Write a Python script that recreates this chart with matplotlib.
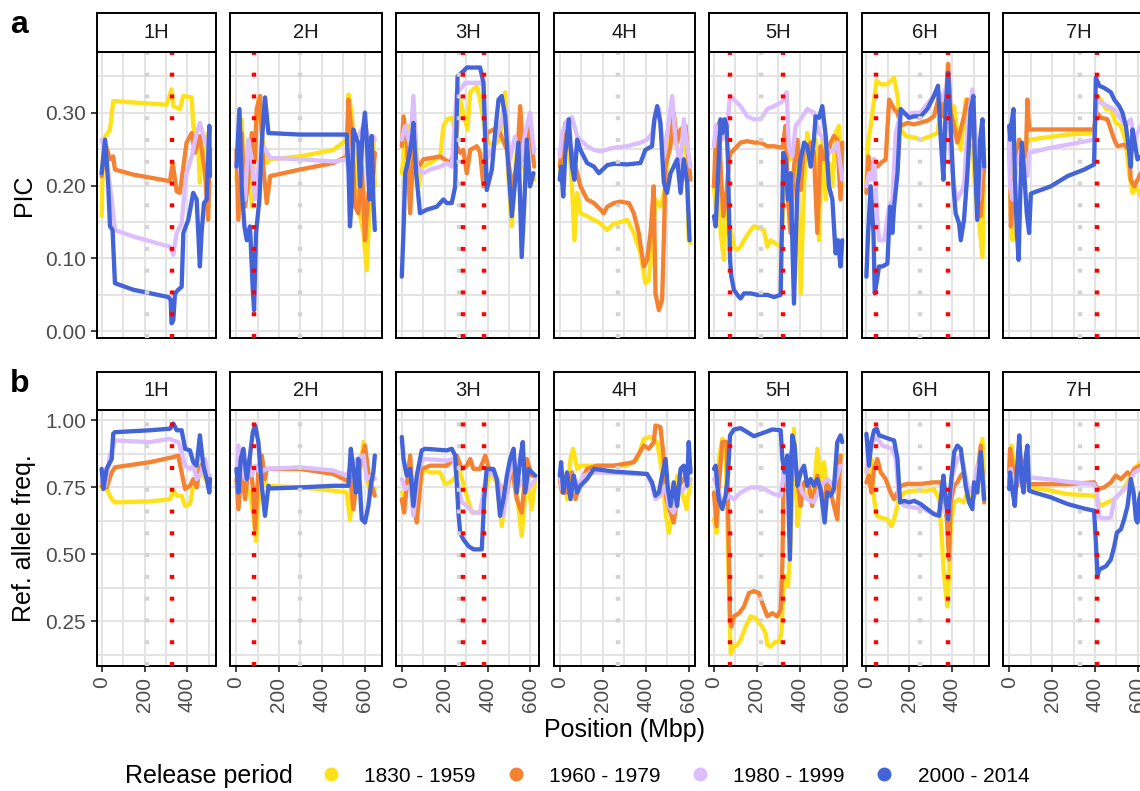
import matplotlib
matplotlib.use('Agg')
import matplotlib.pyplot as plt
from matplotlib.lines import Line2D
from matplotlib.ticker import FormatStrFormatter

plt.rcParams['font.family'] = ['Liberation Sans', 'DejaVu Sans']

chromosomes = ['1H', '2H', '3H', '4H', '5H', '6H', '7H']
periods = ['1830 - 1959', '1960 - 1979', '1980 - 1999', '2000 - 2014']
period_colors = ['#FFE119', '#F58231', '#DCBEFF', '#4363D8']

# x range shown for each chromosome (Mbp)
x_limits = {'1H': (-23, 532), '2H': (-28, 679), '3H': (-27, 642), '4H': (-28, 629),
            '5H': (-23, 622), '6H': (-22, 571), '7H': (-28, 676)}
red_marks = {'1H': [328], '2H': [82], '3H': [287, 381], '4H': [],
             '5H': [73, 323], '6H': [47, 381], '7H': [409]}
grey_marks = {'1H': 210, '2H': 298, '3H': 269, '4H': 272, '5H': 218, '6H': 252, '7H': 329}

# ---- PIC (panel a) ----
pic_1h = {
    '1830 - 1959': [(0, .158), (8, .263), (39, .277), (54, .316), (148, .314), (303, .311), (326, .332), (334, .309),
                    (365, .305), (381, .323), (420, .321), (427, .282), (451, .249), (458, .204), (466, .249),
                    (482, .240), (497, .272), (505, .226)],
    '1960 - 1979': [(0, .213), (16, .259), (39, .236), (54, .240), (62, .222), (148, .215), (319, .206), (331, .231),
                    (350, .192), (365, .190), (381, .226), (396, .259), (420, .272), (435, .245), (458, .268),
                    (482, .217), (497, .153), (505, .249)],
    '1980 - 1999': [(0, .263), (23, .236), (47, .181), (62, .139), (148, .130), (319, .116), (334, .105), (350, .135),
                    (373, .148), (389, .199), (396, .217), (420, .240), (443, .272), (458, .286), (471, .272),
                    (482, .263), (497, .249), (505, .240)],
    '2000 - 2014': [(0, .217), (8, .240), (16, .263), (23, .236), (31, .199), (39, .144), (51, .139), (62, .066),
                    (148, .057), (311, .047), (322, .043), (326, .011), (334, .015), (342, .052), (357, .057),
                    (373, .061), (381, .135), (404, .153), (427, .190), (443, .181), (458, .089), (466, .135),
                    (477, .176), (490, .181), (502, .282), (505, .213)],
}
pic_2h = {
    '1830 - 1959': [(2, .208), (11, .263), (26, .291), (42, .190), (57, .259), (73, .171), (89, .272), (104, .318),
                    (127, .254), (143, .231), (159, .236), (298, .240), (454, .249), (516, .263), (524, .325),
                    (539, .300), (555, .236), (570, .171), (594, .135), (609, .084), (625, .181), (640, .263),
                    (647, .199)],
    '1960 - 1979': [(2, .249), (11, .153), (26, .272), (42, .171), (57, .208), (73, .272), (89, .236), (96, .305),
                    (112, .323), (127, .226), (143, .176), (159, .213), (298, .222), (454, .231), (516, .240),
                    (524, .318), (539, .272), (555, .171), (570, .162), (586, .226), (601, .125), (617, .190),
                    (640, .217), (647, .245)],
    '1980 - 1999': [(2, .226), (11, .249), (26, .199), (42, .181), (57, .263), (73, .236), (89, .181), (104, .226),
                    (127, .254), (159, .238), (298, .236), (454, .233), (516, .236), (531, .208), (547, .263),
                    (570, .268), (586, .277), (601, .286), (617, .263), (640, .268), (647, .263)],
    '2000 - 2014': [(2, .226), (16, .305), (26, .199), (39, .144), (50, .125), (65, .144), (78, .057), (84, .029),
                    (93, .135), (109, .181), (120, .259), (135, .321), (151, .272), (159, .272), (298, .270),
                    (516, .270), (524, .226), (531, .144), (539, .181), (547, .277), (563, .263), (570, .259),
                    (578, .199), (590, .272), (601, .300), (609, .263), (622, .181), (632, .268), (640, .181),
                    (647, .139)],
}
pic_3h = {
    '1830 - 1959': [(0, .217), (16, .263), (31, .282), (47, .199), (62, .282), (78, .199), (93, .226), (132, .231),
                    (179, .240), (194, .282), (210, .291), (233, .293), (256, .268), (272, .318), (287, .300),
                    (306, .277), (319, .328), (350, .337), (365, .318), (396, .263), (427, .254), (458, .263),
                    (482, .328), (497, .213), (513, .144), (528, .226), (552, .282), (567, .226), (591, .199),
                    (606, .217), (617, .208)],
    '1960 - 1979': [(0, .254), (8, .295), (23, .263), (39, .162), (54, .254), (78, .226), (101, .236), (179, .240),
                    (225, .231), (256, .254), (272, .245), (287, .249), (303, .217), (319, .249), (350, .254),
                    (365, .245), (381, .199), (396, .272), (427, .277), (458, .272), (490, .249), (513, .199),
                    (536, .226), (552, .309), (567, .236), (583, .263), (598, .282), (617, .226)],
    '1980 - 1999': [(0, .263), (16, .282), (39, .254), (54, .323), (70, .226), (101, .217), (132, .222), (179, .226),
                    (210, .231), (233, .226), (256, .328), (272, .332), (295, .341), (319, .341), (350, .341),
                    (365, .341), (381, .337), (396, .236), (427, .254), (458, .282), (482, .305), (505, .236),
                    (528, .267), (552, .226), (575, .272), (598, .300), (617, .245)],
    '2000 - 2014': [(0, .075), (8, .139), (16, .217), (31, .236), (47, .263), (54, .286), (67, .217), (85, .162),
                    (117, .167), (163, .171), (194, .181), (210, .176), (233, .176), (249, .199), (260, .350),
                    (287, .357), (303, .362), (365, .362), (381, .341), (396, .194), (420, .222), (435, .272),
                    (451, .318), (466, .323), (482, .295), (497, .226), (513, .158), (528, .204), (544, .259),
                    (559, .102), (572, .181), (583, .263), (598, .199), (614, .217)],
}
pic_4h = {
    '1830 - 1959': [(0, .208), (11, .259), (26, .282), (42, .263), (57, .199), (68, .125), (81, .190), (96, .162),
                    (127, .158), (159, .153), (190, .148), (221, .139), (252, .148), (283, .150), (314, .153),
                    (345, .135), (376, .107), (399, .066), (415, .070), (430, .116), (446, .181), (469, .171),
                    (493, .199), (508, .282), (524, .300), (539, .259), (563, .240), (586, .282), (601, .125),
                    (609, .121)],
    '1960 - 1979': [(0, .226), (11, .254), (26, .286), (42, .263), (57, .245), (81, .217), (96, .199), (127, .181),
                    (159, .176), (190, .167), (205, .162), (221, .171), (252, .176), (283, .178), (322, .176),
                    (345, .162), (368, .135), (392, .089), (407, .098), (423, .135), (438, .199), (446, .052),
                    (462, .029), (477, .043), (485, .125), (493, .226), (516, .254), (531, .300), (547, .259),
                    (563, .277), (586, .282), (609, .208)],
    '1980 - 1999': [(0, .240), (11, .272), (34, .289), (57, .294), (81, .267), (96, .263), (127, .254), (159, .249),
                    (190, .247), (252, .252), (314, .254), (376, .259), (407, .263), (430, .272), (446, .300),
                    (462, .305), (485, .240), (500, .272), (524, .323), (539, .263), (563, .226), (578, .291),
                    (594, .254), (609, .226)],
    '2000 - 2014': [(0, .208), (6, .226), (16, .185), (26, .245), (42, .291), (57, .226), (68, .208), (81, .263),
                    (96, .249), (127, .231), (159, .226), (182, .217), (221, .228), (252, .230), (314, .229),
                    (376, .231), (399, .249), (430, .254), (441, .291), (454, .309), (469, .286), (485, .204),
                    (500, .190), (516, .217), (531, .226), (547, .236), (563, .190), (578, .236), (594, .204),
                    (605, .125)],
}
pic_5h = {
    '1830 - 1959': [(0, .199), (8, .171), (16, .208), (23, .236), (31, .135), (47, .098), (54, .190), (65, .135),
                    (78, .139), (93, .116), (109, .112), (124, .116), (140, .125), (171, .139), (186, .144),
                    (218, .141), (233, .139), (249, .116), (264, .125), (295, .119), (314, .116), (326, .190),
                    (342, .254), (357, .236), (373, .249), (389, .226), (404, .052), (420, .199), (435, .272),
                    (458, .240), (474, .263), (490, .125), (505, .263), (521, .181), (536, .231), (552, .199),
                    (567, .272), (583, .282), (598, .199)],
    '1960 - 1979': [(0, .199), (8, .263), (23, .286), (34, .208), (44, .158), (59, .190), (70, .236), (78, .245),
                    (93, .249), (124, .259), (155, .261), (186, .259), (218, .259), (249, .254), (280, .254),
                    (319, .252), (334, .282), (345, .181), (357, .135), (373, .226), (389, .263), (404, .194),
                    (420, .254), (435, .249), (451, .259), (466, .245), (482, .135), (497, .254), (513, .236),
                    (528, .240), (544, .259), (559, .268), (575, .263), (590, .181), (598, .259)],
    '1980 - 1999': [(0, .254), (8, .282), (23, .272), (39, .263), (62, .282), (75, .323), (93, .318), (124, .309),
                    (155, .295), (186, .291), (218, .291), (249, .305), (280, .309), (311, .314), (326, .318),
                    (339, .328), (350, .249), (365, .240), (381, .282), (404, .291), (435, .305), (466, .300),
                    (490, .272), (513, .263), (536, .245), (559, .249), (575, .259), (598, .208)],
    '2000 - 2014': [(0, .158), (8, .144), (23, .240), (31, .291), (39, .272), (50, .291), (59, .282), (65, .236),
                    (75, .098), (81, .075), (93, .057), (109, .050), (124, .045), (140, .052), (171, .052),
                    (202, .050), (249, .050), (280, .047), (311, .050), (323, .245), (334, .236), (345, .181),
                    (357, .217), (373, .038), (389, .199), (404, .236), (420, .259), (435, .254), (451, .226),
                    (466, .263), (474, .295), (490, .293), (505, .309), (521, .268), (536, .199), (552, .181),
                    (567, .107), (578, .125), (590, .089), (598, .125)],
}
pic_6h = {
    '1830 - 1959': [(0, .204), (9, .261), (20, .282), (36, .318), (47, .344), (67, .339), (98, .339), (129, .348),
                    (145, .323), (160, .277), (183, .268), (222, .266), (253, .263), (300, .268), (331, .272),
                    (347, .305), (378, .341), (393, .291), (409, .309), (424, .272), (440, .249), (463, .318),
                    (479, .245), (494, .254), (510, .181), (525, .153), (541, .102), (549, .199)],
    '1960 - 1979': [(0, .190), (9, .240), (20, .217), (36, .236), (51, .226), (67, .231), (90, .236), (106, .318),
                    (129, .305), (145, .300), (160, .282), (191, .286), (222, .284), (284, .289), (315, .295),
                    (339, .323), (354, .295), (370, .318), (381, .367), (393, .300), (409, .282), (424, .259),
                    (440, .277), (455, .295), (471, .318), (486, .282), (502, .263), (517, .199), (533, .158),
                    (549, .226)],
    '1980 - 1999': [(0, .199), (12, .217), (23, .208), (36, .236), (48, .171), (59, .125), (82, .125), (106, .171),
                    (121, .181), (137, .272), (160, .300), (191, .298), (222, .300), (253, .300), (300, .318),
                    (331, .332), (354, .318), (378, .341), (393, .236), (409, .199), (424, .181), (440, .190),
                    (455, .199), (471, .282), (494, .332), (510, .263), (525, .181), (541, .272), (549, .226)],
    '2000 - 2014': [(0, .075), (8, .135), (20, .199), (33, .135), (39, .052), (47, .066), (59, .089), (75, .089),
                    (98, .093), (110, .171), (121, .135), (129, .171), (145, .217), (160, .305), (176, .300),
                    (199, .293), (222, .295), (253, .295), (284, .305), (315, .323), (334, .337), (347, .263),
                    (359, .208), (370, .309), (381, .355), (393, .282), (406, .199), (416, .162), (432, .148),
                    (440, .125), (455, .153), (471, .217), (486, .305), (499, .323), (505, .245), (517, .153),
                    (530, .263), (541, .291), (549, .226)],
}
pic_7h = {
    '1830 - 1959': [(0, .245), (4, .217), (8, .162), (16, .125), (23, .181), (31, .245), (47, .263), (62, .199),
                    (78, .254), (93, .263), (194, .267), (272, .270), (396, .272), (409, .323), (427, .318),
                    (451, .305), (474, .305), (497, .286), (521, .282), (544, .259), (559, .217), (575, .190),
                    (591, .199), (614, .185), (640, .190)],
    '1960 - 1979': [(0, .263), (4, .236), (8, .144), (20, .190), (31, .226), (47, .263), (62, .249), (78, .240),
                    (85, .318), (93, .277), (117, .277), (272, .277), (396, .277), (409, .300), (427, .293),
                    (458, .291), (490, .263), (505, .254), (536, .256), (559, .249), (567, .208), (583, .199),
                    (614, .217), (640, .215)],
    '1980 - 1999': [(0, .263), (4, .199), (16, .181), (31, .226), (54, .249), (85, .213), (93, .245), (194, .252),
                    (272, .256), (396, .263), (409, .318), (427, .314), (458, .309), (490, .305), (521, .291),
                    (544, .282), (567, .291), (583, .263), (614, .282), (640, .270)],
    '2000 - 2014': [(0, .282), (4, .263), (11, .286), (20, .305), (26, .217), (36, .135), (44, .098), (51, .181),
                    (59, .259), (70, .217), (82, .162), (93, .135), (101, .189), (194, .199), (272, .213),
                    (350, .222), (396, .229), (404, .348), (420, .337), (443, .334), (474, .328), (490, .318),
                    (513, .309), (528, .300), (544, .282), (559, .249), (567, .226), (575, .277), (583, .263),
                    (598, .236), (614, .240), (640, .230)],
}

# ---- Reference allele frequency (panel b) ----
ref_1h = {
    '1830 - 1959': [(0, .750), (23, .744), (47, .706), (62, .694), (225, .698), (319, .706), (334, .738), (350, .719),
                    (373, .719), (389, .681), (412, .688), (427, .756), (451, .819), (466, .831), (482, .781),
                    (505, .794)],
    '1960 - 1979': [(0, .756), (23, .750), (47, .806), (62, .825), (225, .844), (334, .863), (357, .869), (373, .806),
                    (389, .744), (412, .756), (427, .781), (443, .750), (458, .819), (474, .844), (490, .794),
                    (505, .781)],
    '1980 - 1999': [(0, .769), (16, .756), (39, .869), (62, .925), (225, .919), (319, .931), (334, .925), (357, .919),
                    (373, .881), (389, .831), (412, .819), (427, .831), (443, .781), (458, .794), (482, .856),
                    (497, .794), (505, .794)],
    '2000 - 2014': [(0, .819), (8, .744), (23, .819), (47, .856), (54, .950), (62, .956), (225, .963), (319, .969),
                    (334, .988), (350, .963), (373, .963), (389, .894), (412, .888), (427, .844), (443, .831),
                    (458, .944), (474, .831), (490, .781), (502, .731), (505, .781)],
}
ref_2h = {
    '1830 - 1959': [(2, .819), (11, .794), (26, .769), (50, .744), (65, .731), (81, .644), (93, .550), (104, .694),
                    (127, .781), (143, .756), (298, .750), (454, .738), (516, .731), (531, .631), (547, .731),
                    (570, .756), (594, .919), (609, .806), (625, .719), (647, .744)],
    '1960 - 1979': [(2, .781), (11, .669), (26, .819), (42, .706), (62, .856), (78, .756), (89, .594), (104, .819),
                    (120, .869), (135, .781), (143, .819), (298, .819), (454, .800), (516, .775), (531, .794),
                    (547, .669), (563, .781), (586, .856), (601, .906), (617, .806), (632, .756), (647, .719)],
    '1980 - 1999': [(2, .806), (11, .906), (26, .819), (42, .781), (57, .831), (73, .794), (89, .831), (112, .806),
                    (143, .819), (298, .825), (454, .813), (516, .794), (539, .831), (563, .856), (594, .869),
                    (609, .781), (632, .794), (647, .781)],
    '2000 - 2014': [(2, .819), (11, .731), (22, .856), (34, .894), (50, .781), (65, .869), (78, .956), (89, .981),
                    (104, .919), (120, .756), (135, .644), (151, .756), (159, .746), (298, .750), (454, .756),
                    (524, .756), (535, .894), (547, .819), (559, .731), (570, .856), (586, .631), (601, .619),
                    (617, .681), (628, .756), (640, .806), (647, .869)],
}
ref_3h = {
    '1830 - 1959': [(0, .731), (16, .706), (39, .844), (54, .656), (70, .706), (101, .819), (132, .806), (179, .806),
                    (202, .762), (225, .769), (256, .794), (272, .806), (303, .719), (326, .656), (365, .656),
                    (389, .731), (412, .806), (443, .769), (466, .606), (490, .769), (513, .856), (536, .731),
                    (559, .569), (583, .794), (606, .669), (622, .781)],
    '1960 - 1979': [(0, .706), (11, .656), (23, .756), (39, .869), (54, .681), (70, .619), (93, .819), (132, .831),
                    (210, .831), (256, .869), (280, .819), (303, .831), (319, .856), (334, .819), (365, .819),
                    (389, .869), (412, .806), (435, .794), (458, .756), (490, .731), (513, .831), (536, .706),
                    (559, .656), (583, .856), (606, .794), (622, .794)],
    '1980 - 1999': [(0, .781), (16, .744), (39, .756), (54, .644), (78, .819), (101, .856), (210, .850), (241, .856),
                    (264, .756), (280, .694), (303, .681), (334, .656), (365, .656), (396, .806), (435, .794),
                    (458, .756), (474, .644), (497, .781), (521, .856), (544, .756), (567, .781), (591, .744),
                    (622, .781)],
    '2000 - 2014': [(0, .938), (8, .856), (23, .794), (39, .819), (54, .681), (70, .794), (93, .888), (109, .894),
                    (210, .888), (233, .894), (249, .869), (264, .656), (272, .581), (287, .556), (311, .531),
                    (334, .519), (373, .519), (384, .706), (396, .819), (427, .819), (443, .781), (458, .644),
                    (474, .706), (490, .794), (505, .856), (521, .894), (536, .731), (552, .856), (564, .919),
                    (575, .731), (591, .819), (606, .806), (622, .794)],
}
ref_4h = {
    '1830 - 1959': [(0, .769), (11, .806), (34, .706), (50, .856), (62, .894), (81, .819), (96, .831), (127, .831),
                    (190, .831), (252, .831), (314, .831), (361, .856), (392, .931), (423, .938), (454, .919),
                    (477, .806), (493, .656), (508, .581), (524, .644), (547, .794), (570, .731), (591, .669),
                    (609, .781)],
    '1960 - 1979': [(0, .781), (11, .731), (34, .731), (57, .806), (73, .706), (96, .769), (127, .819), (174, .831),
                    (252, .831), (345, .844), (392, .906), (415, .894), (438, .919), (446, .981), (469, .975),
                    (482, .881), (497, .706), (516, .656), (531, .619), (555, .756), (578, .781), (609, .819)],
    '1980 - 1999': [(0, .794), (11, .744), (34, .769), (57, .731), (81, .756), (112, .794), (159, .806), (252, .804),
                    (345, .800), (407, .800), (430, .756), (446, .706), (469, .719), (493, .756), (508, .681),
                    (531, .656), (555, .731), (578, .744), (609, .781)],
    '2000 - 2014': [(0, .794), (6, .844), (16, .731), (34, .806), (50, .706), (65, .794), (81, .731), (96, .756),
                    (127, .781), (159, .819), (252, .809), (345, .804), (407, .800), (430, .769), (446, .719),
                    (462, .731), (477, .794), (493, .856), (504, .744), (516, .681), (531, .769), (547, .681),
                    (563, .819), (578, .831), (594, .756), (601, .919), (609, .806)],
}
ref_5h = {
    '1830 - 1959': [(0, .631), (12, .581), (23, .856), (39, .931), (54, .919), (70, .356), (78, .131), (93, .156),
                    (109, .163), (124, .181), (148, .231), (171, .269), (194, .263), (210, .244), (225, .231),
                    (241, .206), (249, .163), (264, .156), (287, .175), (303, .175), (314, .206), (323, .356),
                    (334, .419), (345, .381), (357, .531), (373, .969), (389, .606), (404, .706), (435, .731),
                    (466, .731), (482, .894), (500, .756), (513, .844), (528, .731), (559, .731), (583, .856),
                    (598, .869)],
    '1960 - 1979': [(0, .731), (12, .606), (23, .756), (39, .919), (59, .919), (65, .706), (75, .256), (81, .231),
                    (93, .269), (117, .281), (140, .306), (163, .356), (186, .363), (210, .356), (225, .319),
                    (249, .269), (272, .281), (295, .269), (311, .294), (319, .469), (326, .856), (342, .819),
                    (365, .894), (381, .831), (404, .681), (420, .769), (443, .756), (458, .681), (482, .794),
                    (497, .731), (513, .694), (528, .781), (552, .706), (575, .631), (590, .869)],
    '1980 - 1999': [(0, .781), (16, .756), (31, .706), (54, .706), (70, .719), (93, .706), (124, .731), (171, .750),
                    (218, .750), (249, .738), (280, .725), (311, .719), (326, .806), (342, .769), (365, .844),
                    (389, .781), (412, .731), (435, .706), (466, .694), (497, .756), (528, .781), (559, .756),
                    (590, .831)],
    '2000 - 2014': [(0, .819), (8, .831), (16, .756), (23, .706), (39, .669), (54, .719), (65, .794), (75, .944),
                    (93, .966), (124, .971), (155, .956), (186, .941), (218, .950), (249, .959), (272, .966),
                    (311, .963), (319, .856), (329, .806), (342, .869), (354, .481), (365, .944), (376, .906),
                    (389, .756), (404, .806), (420, .831), (435, .756), (451, .781), (466, .756), (482, .781),
                    (497, .744), (516, .619), (528, .731), (544, .719), (559, .744), (575, .919), (590, .944),
                    (598, .919)],
}
ref_6h = {
    '1830 - 1959': [(0, .819), (12, .781), (23, .856), (36, .706), (48, .644), (67, .638), (98, .631), (117, .606),
                    (129, .631), (152, .706), (176, .731), (222, .738), (284, .738), (315, .744), (339, .706),
                    (350, .581), (359, .456), (370, .356), (378, .306), (385, .419), (393, .606), (409, .694),
                    (432, .706), (455, .694), (471, .731), (494, .694), (517, .794), (541, .931), (549, .794)],
    '1960 - 1979': [(0, .769), (12, .794), (23, .731), (36, .819), (51, .856), (67, .806), (90, .781), (113, .731),
                    (129, .706), (160, .756), (191, .763), (253, .763), (315, .769), (347, .769), (362, .706),
                    (375, .631), (385, .481), (393, .694), (409, .756), (424, .769), (440, .794), (455, .806),
                    (471, .719), (490, .681), (510, .744), (533, .906), (549, .694)],
    '1980 - 1999': [(0, .806), (12, .856), (23, .906), (36, .931), (51, .931), (75, .906), (98, .900), (121, .894),
                    (137, .856), (152, .706), (176, .681), (222, .675), (269, .669), (300, .656), (331, .650),
                    (354, .681), (370, .656), (385, .669), (401, .794), (424, .856), (440, .869), (455, .819),
                    (471, .756), (494, .731), (517, .831), (541, .794), (549, .731)],
    '2000 - 2014': [(0, .950), (12, .831), (23, .919), (36, .963), (48, .969), (59, .944), (82, .938), (106, .931),
                    (129, .925), (145, .856), (157, .694), (176, .700), (199, .694), (222, .700), (253, .688),
                    (284, .669), (315, .650), (339, .644), (350, .731), (359, .794), (370, .706), (381, .631),
                    (393, .756), (409, .881), (424, .906), (440, .894), (463, .756), (479, .694), (494, .669),
                    (502, .769), (517, .731), (533, .881), (549, .706)],
}
ref_7h = {
    '1830 - 1959': [(0, .769), (4, .856), (11, .906), (23, .831), (36, .756), (47, .794), (62, .819), (78, .856),
                    (93, .750), (194, .738), (272, .725), (396, .719), (409, .706), (427, .681), (458, .694),
                    (490, .706), (521, .731), (552, .769), (583, .819), (614, .844), (640, .840)],
    '1960 - 1979': [(0, .806), (4, .894), (11, .856), (23, .794), (36, .756), (51, .869), (70, .819), (93, .762),
                    (194, .762), (272, .762), (396, .769), (412, .744), (443, .750), (474, .769), (497, .794),
                    (521, .781), (552, .806), (567, .794), (583, .819), (614, .831), (640, .830)],
    '1980 - 1999': [(0, .781), (8, .819), (23, .744), (39, .781), (62, .831), (93, .788), (194, .779), (272, .771),
                    (396, .762), (409, .731), (420, .638), (443, .634), (474, .638), (490, .706), (521, .731),
                    (552, .756), (583, .806), (614, .819), (640, .810)],
    '2000 - 2014': [(0, .744), (4, .806), (11, .756), (19, .719), (26, .681), (36, .806), (47, .944), (57, .781),
                    (67, .731), (78, .869), (85, .906), (93, .738), (117, .731), (194, .713), (272, .688),
                    (350, .671), (396, .663), (405, .531), (412, .419), (420, .444), (451, .456), (474, .481),
                    (490, .531), (502, .581), (521, .594), (536, .631), (552, .681), (567, .781), (580, .731),
                    (591, .631), (598, .619), (606, .706), (614, .731), (640, .720)],
}

pic_panels = [pic_1h, pic_2h, pic_3h, pic_4h, pic_5h, pic_6h, pic_7h]
ref_panels = [ref_1h, ref_2h, ref_3h, ref_4h, ref_5h, ref_6h, ref_7h]

# ---- layout (pixels of a 1140 x 791 canvas) ----
W, H = 1140, 791
px_per_mbp = 0.2145
panel_gap = 14.3
first_left = 96.7

rows = [
    dict(panels=pic_panels, ylim=(-0.0096, 0.384), major=[0.0, 0.1, 0.2, 0.3], minor=[0.05, 0.15, 0.25, 0.35],
         ylabel='PIC', letter='a', strip_top=12.5, panel_top=51.5, panel_bottom=338.3, xlabels=False),
    dict(panels=ref_panels, ylim=(0.084, 1.0375), major=[0.25, 0.50, 0.75, 1.00],
         minor=[0.125, 0.375, 0.625, 0.875],
         ylabel='Ref. allele freq.', letter='b', strip_top=371.5, panel_top=410.3, panel_bottom=666,
         xlabels=True),
]

fig = plt.figure(figsize=(W / 100, H / 100), dpi=100)
dot_style = (0, (0.9, 4.0))

for row in rows:
    left = first_left
    for chrom, panel in zip(chromosomes, row['panels']):
        lo, hi = x_limits[chrom]
        width = (hi - lo) * px_per_mbp
        ax = fig.add_axes([left / W, 1 - row['panel_bottom'] / H, width / W,
                           (row['panel_bottom'] - row['panel_top']) / H])
        for i, (period, color) in enumerate(zip(periods, period_colors)):
            xs, ys = zip(*panel[period])
            ax.plot(xs, ys, color=color, lw=3.1, solid_joinstyle='round', solid_capstyle='round', zorder=2 + i)
        ax.axvline(grey_marks[chrom], color='#D3D3D3', lw=3.2, linestyle=dot_style, zorder=10)
        for m in red_marks[chrom]:
            ax.axvline(m, color='#FF0000', lw=3.2, linestyle=dot_style, zorder=11)

        ax.set_xlim(lo, hi)
        ax.set_ylim(*row['ylim'])
        ax.set_xticks([t for t in (0, 200, 400, 600) if lo <= t <= hi])
        ax.set_xticks([t for t in (100, 300, 500) if lo <= t <= hi], minor=True)
        ax.set_yticks(row['major'])
        ax.set_yticks(row['minor'], minor=True)
        ax.yaxis.set_major_formatter(FormatStrFormatter('%.2f'))
        ax.grid(which='both', color='#E3E3E3', lw=1.4)
        ax.set_axisbelow(True)
        for s in ax.spines.values():
            s.set_color('black')
            s.set_linewidth(1.4)
        ax.tick_params(which='minor', length=0)
        ax.tick_params(which='major', length=4, width=1.3, color='#333333', labelsize=15,
                       labelcolor='#4D4D4D', pad=3.6)
        ax.tick_params(axis='x', bottom=row['xlabels'], labelbottom=row['xlabels'], labelrotation=90)
        if chrom != '1H':
            ax.tick_params(axis='y', left=False, labelleft=False)

        # facet strip
        sax = fig.add_axes([left / W, 1 - row['panel_top'] / H, width / W,
                            (row['panel_top'] - row['strip_top']) / H])
        sax.set_xticks([])
        sax.set_yticks([])
        for s in sax.spines.values():
            s.set_color('black')
            s.set_linewidth(1.4)
        sax.text(0.5, 0.5, chrom, ha='center', va='center', fontsize=14.5, color='#1A1A1A',
                 transform=sax.transAxes)
        left += width + panel_gap

    mid = (row['panel_top'] + row['panel_bottom']) / 2
    fig.text(24 / W, 1 - mid / H, row['ylabel'], rotation=90, ha='center', va='center', fontsize=18)
    fig.text(10 / W, 1 - (row['strip_top'] + 20.5) / H, row['letter'], ha='left', va='baseline',
             fontsize=23, fontweight='bold')

fig.text(625 / W, 1 - 730 / H, 'Position (Mbp)', ha='center', va='center', fontsize=18)

# legend
fig.text(125 / W, 1 - 776 / H, 'Release period', ha='left', va='center', fontsize=18)
handles = [Line2D([], [], marker='o', linestyle='none', markersize=9, color=c) for c in period_colors]
fig.legend(handles, periods, loc='center left', bbox_to_anchor=(302 / W, 1 - 776 / H), ncol=4,
           frameon=False, fontsize=15, handlelength=1.0, handletextpad=1.1, columnspacing=1.4)

fig.savefig('out.png', dpi=100)
